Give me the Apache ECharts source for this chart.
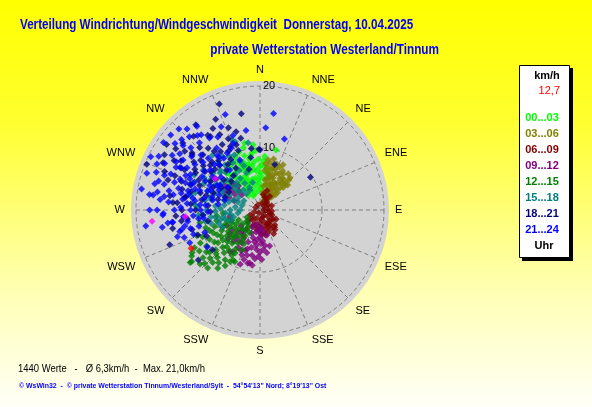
<!DOCTYPE html>
<html>
<head>
<meta charset="utf-8">
<script src="https://cdn.jsdelivr.net/npm/echarts@6/dist/echarts.min.js"></script>
<style>
  html, body { margin: 0; padding: 0; }
  #chart { width: 592px; height: 407px; }
</style>
</head>
<body>
<div id="chart"></div>
<script>
// Windrichtung (Grad) / Windgeschwindigkeit (km/h), Punkte als [km/h, Grad]
var directions = ['N', 'NNE', 'NE', 'ENE', 'E', 'ESE', 'SE', 'SSE', 'S', 'SSW', 'SW', 'WSW', 'W', 'WNW', 'NW', 'NNW'];
var timeRanges = ['00...03', '03...06', '06...09', '09...12', '12...15', '15...18', '18...21', '21...24'];
var groupColors = ['#00ff00', '#808000', '#800000', '#800080', '#008000', '#008080', '#000080', '#0000ff'];

var h00_03 = [[8.7,5],[10.0,15],[11.1,347],[9.3,352],[8.2,358],[7.6,346],[7.1,336],[6.6,351],[6.2,341],[6.0,1],[5.6,331],[5.1,346],[4.9,356],[4.6,338],[4.2,326],[4.0,351],[3.6,341],[3.2,356],[3.0,321],[7.0,6],[6.1,9],[8.1,341],[8.6,333],[7.2,326],[5.6,318],[4.6,313],[6.6,323],[9.1,344],[5.1,6],[4.1,11],[3.6,2],[7.8,353],[6.9,359],[9.0,328],[8.0,318],[5.8,310],[6.8,312],[5.4,338],[7.4,343],[9.9,340],[4.4,333],[2.8,345],
    [5.2,352],[6.4,346],[7.3,350],[8.4,348],[5.9,334],[6.9,341],[7.9,337],[4.7,344],[3.9,330],[5.3,324],[6.1,328],[7.7,330],[8.9,350],[9.6,356],[7.4,2],[5.6,0],[4.4,358],[6.3,355],[8.0,4],[6.6,12],[5.4,15],[4.8,335],[3.3,333],[6.5,315],[7.5,320],[8.4,325],[9.4,335],[10.4,345],[10.6,354],[2.5,335]];
var h03_06 = [[8.2,27],[8.2,9],[7.2,17],[7.1,43],[6.3,35],[4.5,26],[2.6,32],[1.8,27],[5.2,12],[6.0,20],[6.6,28],[5.5,38],[4.8,42],[3.9,34],[3.4,20],[4.2,14],[3.0,10],[2.2,18],[5.8,45],[6.9,33],[7.6,24],[7.8,12],[6.4,7],[5.0,30],[4.0,45],[3.2,40],[2.8,25],[1.5,35],[6.2,40],[7.4,38],[5.6,22],[4.6,18],[3.6,28],[2.4,38],[1.2,15],[5.9,14],[6.8,16],
    [7.0,20],[6.5,24],[7.3,30],[6.0,32],[5.3,34],[4.3,38],[3.5,45],[2.8,42],[2.0,30],[3.0,16],[3.8,24],[4.4,22],[5.0,26],[5.4,18],[6.1,13],[7.0,10],[7.5,7],[4.9,10],[3.9,8],[2.5,12],[1.8,22],[6.7,44],[6.0,48],[5.2,46],[4.6,32],[3.2,30],[4.1,28],[7.9,20],[8.5,15],[5.7,40]];
var h06_09 = [[2.5,148],[2.8,173],[4.0,143],[4.1,168],[2.5,198],[1.8,243],[0.9,338],[1.5,58],[2.1,113],[2.2,21],[1.2,160],[1.6,130],[3.0,155],[3.4,135],[3.6,180],[2.0,215],[1.0,250],[3.2,190],[0.6,90],[1.4,200],[2.6,125],[3.8,160],[1.9,95],[0.8,300],[2.9,205],[3.5,150],[1.2,20],[1.7,40],[2.3,140],[3.3,20],[2.6,12],
    [2.2,160],[2.9,145],[3.3,165],[2.0,180],[1.5,170],[1.0,140],[2.4,130],[3.0,120],[1.8,110],[2.7,185],[3.9,175],[4.4,150],[1.6,225],[2.3,230],[0.5,200],[1.2,80],[2.0,70],[2.6,155],[3.6,140],[1.4,100],[2.0,30],[2.7,35],[0.9,45]];
var h09_12 = [[8.1,213],[7.6,196],[4.4,180],[7.0,171],[8.7,191],[6.1,209],[2.7,225],[8.8,193],[8.3,216],[6.4,185],[5.5,200],[5.0,175],[3.6,190],[3.0,205],[4.8,215],[5.8,222],[7.2,205],[6.8,180],[6.0,165],[4.2,165],[3.4,172],[5.2,190],[7.9,186],[6.6,198],[4.0,230],[2.4,195],[5.6,235],[9.3,200],[6.1,307],[5.7,315],[6.3,296],[4.8,302],[5.2,318],[6.9,305],[4.4,290],[3.8,310],[5.0,258],[5.9,245],
    [7.4,190],[6.9,200],[6.2,193],[5.7,186],[5.4,178],[4.6,194],[4.0,200],[3.2,185],[2.8,178],[3.8,215],[4.4,220],[5.2,210],[6.0,215],[6.6,220],[7.0,210],[7.8,202],[8.4,198],[9.0,188],[8.0,178],[7.5,182],[6.4,175],[5.8,172],[4.8,185],[3.9,178],[6.9,228],[6.2,232],[5.0,225],[5.5,305],[6.6,300],[4.6,312],[5.4,292]];
var h12_15 = [[13.8,233],[11.6,216],[11.2,226],[9.2,208],[10.2,245],[11.0,241],[7.7,231],[5.6,240],[14.1,233],[12.6,222],[10.3,222],[12.9,238],[9.9,258],[6.4,214],[9.3,206],[8.5,225],[7.0,220],[6.0,228],[5.0,235],[4.2,222],[3.6,232],[8.0,240],[9.0,235],[10.6,230],[7.4,212],[8.2,217],[6.6,245],[4.8,250],[3.4,215],[5.6,210],[4.0,205],[7.8,250],[8.8,248],[12.0,230],[13.0,228],[6.2,236],[9.8,215],[11.8,236],[5.2,218],[10.8,218],[2.8,230],[7.2,256],
    [9.6,228],[8.6,232],[7.6,236],[6.8,232],[5.8,222],[4.6,228],[5.4,228],[6.4,225],[7.3,226],[8.0,222],[9.0,220],[10.0,225],[11.0,232],[10.4,236],[9.4,240],[8.4,244],[7.0,242],[6.0,248],[5.4,252],[4.4,240],[3.8,245],[3.0,222],[4.0,215],[4.8,210],[6.0,206],[7.0,204],[8.0,210],[8.6,212],[9.6,210],[10.6,212],[11.4,222],[12.4,226],[13.3,236],[12.2,240],[11.0,248],[9.2,252],[7.0,262],[6.0,265],[5.0,245],[2.4,240]];
var h15_18 = [[11.7,319],[11.7,340],[11.0,350],[8.8,313],[6.8,298],[11.7,292],[8.3,284],[7.3,261],[6.7,246],[4.8,270],[10.2,273],[6.1,259],[4.0,277],[3.6,333],[5.4,297],[8.3,299],[3.2,270],[6.6,256],[9.0,280],[12.2,338],[7.5,305],[9.6,308],[10.4,300],[6.0,285],[5.2,310],[7.8,290],[8.6,270],[4.4,255],[5.8,320],[7.0,325],[9.2,322],[10.0,330],[6.4,340],[4.6,345],[3.0,300],[8.0,262],[9.4,265],[5.6,265],[7.2,275],[10.8,285],[6.8,315],[4.2,320],[3.8,290],[8.8,330],[11.2,305],[5.0,250],[7.6,340],
    [5.2,285],[6.2,292],[7.0,295],[7.8,300],[8.6,305],[9.4,300],[10.0,295],[9.0,290],[8.0,282],[7.2,268],[6.4,272],[5.8,278],[4.6,290],[4.0,300],[4.5,310],[5.4,316],[6.2,310],[7.2,312],[8.2,318],[9.0,315],[10.2,318],[10.6,325],[9.8,335],[8.4,338],[7.2,332],[6.0,328],[5.0,330],[4.0,335],[3.4,320],[3.0,285],[3.6,262],[4.8,262],[5.8,255],[7.0,252],[8.2,255],[9.0,258],[10.0,265],[10.6,275],[11.4,282],[12.0,298]];
var h18_21 = [[18.3,339],[16.3,334],[16.5,311],[14.3,310],[19.7,292],[17.4,296],[14.2,339],[14.7,325],[14.6,298],[15.8,349],[9.8,359],[9.7,57],[14.3,326],[9.7,0],[7.7,18],[11.3,335],[14.1,309],[14.7,279],[14.1,275],[12.3,279],[12.8,231],[10.0,230],[12.6,270],[15.6,249],[11.4,254],[12.0,300],[10.5,292],[9.7,318],[8.8,305],[11.0,315],[13.0,320],[12.2,330],[10.2,340],[9.0,325],[8.0,290],[7.2,300],[6.5,315],[9.5,280],[11.5,285],[13.5,290],[15.0,302],[16.0,318],[10.8,305],[7.8,330],[6.8,345],[12.5,310],[13.8,298],[9.2,265],[8.4,275],[6.0,290],[10.0,352],[13.2,343],[17.2,323],[11.8,263],[8.6,350],
    [9.2,300],[10.0,308],[10.8,312],[11.6,308],[12.4,302],[13.2,306],[12.8,314],[12.0,322],[11.4,326],[10.4,320],[9.8,312],[9.4,330],[10.8,332],[12.6,336],[13.8,332],[15.2,330],[14.0,316],[15.4,308],[16.0,300],[14.8,292],[13.0,285],[12.0,290],[11.0,296],[10.0,286],[9.0,285],[8.4,296],[7.6,310],[8.4,320],[7.0,322],[6.2,305],[5.8,300],[7.0,284],[8.0,268],[10.4,270],[11.2,275],[12.8,262],[13.6,266],[14.4,258],[10.8,248],[9.6,244],[8.6,258],[16.8,306],[17.8,300],[18.4,305],[15.6,288],[16.6,292],[13.4,275],[12.2,280],[11.2,340],[12.0,345]];
var h21_24 = [[18.5,315],[16.9,323],[15.7,320],[18.5,298],[16.7,302],[15.7,8],[13.3,4],[12.1,19],[17.1,296],[17.5,284],[16.2,276],[15.6,268],[14.3,262],[13.4,255],[20.9,275],[20.2,258],[14.2,262],[15.7,267],[12.5,245],[10.4,235],[9.6,248],[13.0,256],[11.8,261],[10.2,288],[12.6,297],[10.3,309],[7.6,302],[13.8,291],[9.7,275],[8.1,323],[8.7,338],[5.9,286],[11.0,280],[12.0,285],[13.0,282],[14.5,288],[15.5,292],[16.0,285],[11.5,293],[9.0,296],[10.8,300],[12.8,305],[14.0,308],[15.0,312],[11.8,315],[9.8,318],[12.2,325],[13.6,330],[10.6,330],[8.2,310],[7.0,290],[6.8,278],[8.4,268],[10.0,262],[11.2,270],[12.4,265],[14.8,275],[16.8,280],[17.8,290],[19.2,288],[19.0,305],[18.0,278],[9.2,282],[7.8,282],[10.8,322],[14.6,318],[11.6,338],[16.4,340],[13.0,350],[6.4,305],[8.6,292],[12.8,290],[15.2,297],[17.8,270],[18.6,262],[11.4,250],[10.2,255],
    [11.0,288],[11.8,290],[12.4,294],[13.2,295],[13.6,300],[14.4,298],[14.8,303],[15.8,305],[16.2,310],[17.0,312],[17.4,308],[16.4,316],[15.4,322],[14.2,325],[13.0,313],[12.0,310],[11.0,305],[10.0,298],[9.4,305],[10.4,315],[11.2,322],[9.0,290],[8.0,300],[7.4,296],[8.0,285],[9.6,270],[10.6,278],[11.8,282],[12.6,278],[13.6,285],[14.2,280],[15.0,282],[15.6,278],[16.4,290],[17.0,286],[18.2,294],[17.4,278],[16.6,270],[15.0,262],[16.0,260],[13.8,270],[12.8,272],[11.8,275],[12.4,258],[13.0,250],[14.0,252],[11.6,255],[10.8,265],[9.2,262],[8.8,275],[19.6,296],[19.4,280],[20.4,268],[18.8,310],[17.6,318],[14.8,335],[12.8,340],[15.6,300],[10.2,325],[11.0,335]];
var magentaPoints = [[17.5,264],[12.1,265],[8.8,305]];
var currentValue = [12.7, 241];

var groups = [h00_03, h03_06, h06_09, h09_12, h12_15, h15_18, h18_21, h21_24];

var title1 = 'Verteilung Windrichtung/Windgeschwindigkeit  Donnerstag, 10.04.2025';
var title2 = 'private Wetterstation Westerland/Tinnum';
var statsLine = '1440 Werte   -   \u00d8 6,3km/h  -  Max. 21,0km/h';
var footerLine = '\u00a9 WsWin32  -  \u00a9 private Wetterstation Tinnum/Westerland/Sylt  -  54\u00b054\'13" Nord; 8\u00b019\'13" Ost';

var chart = echarts.init(document.getElementById('chart'));

var arial = '"Liberation Sans", Arial, sans-serif';

function txt(x, y, text, font, fill, align, sx) {
    return {
        type: 'text', x: x, y: y, z: 10,
        scaleX: sx || 1,
        style: {
            text: text, font: font, fill: fill,
            textAlign: align || 'left', align: align || 'left',
            textVerticalAlign: 'middle', verticalAlign: 'middle'
        }
    };
}

var graphics = [
    // grauer Hintergrund der Windrose
    { type: 'circle', shape: { cx: 260, cy: 210, r: 129 }, style: { fill: '#d3d3d3' }, z: -10 },
    txt(20, 25, title1, 'bold 14px ' + arial, '#0000ff', 'left', 0.833),
    txt(439, 50, title2, 'bold 14px ' + arial, '#0000ff', 'right', 0.84),
    txt(18, 369, statsLine, '11px ' + arial, '#000000', 'left', 0.86),
    txt(19, 386, footerLine, 'bold 8px ' + arial, '#0000ff', 'left', 0.865),
    // Legendenkasten
    { type: 'rect', shape: { x: 522, y: 68, width: 51, height: 193 }, style: { fill: '#000000' }, z: 5 },
    { type: 'rect', shape: { x: 519.5, y: 65.5, width: 50, height: 192 }, style: { fill: '#ffffff', stroke: '#000000', lineWidth: 1 }, z: 6 },
    txt(547, 76, 'km/h', 'bold 11px ' + arial, '#000000', 'center'),
    txt(560, 91, currentValue[0].toFixed(1).replace('.', ','), '11px ' + arial, '#ff0000', 'right'),
    txt(544, 246, 'Uhr', 'bold 11px ' + arial, '#000000', 'center')
];
timeRanges.forEach(function (t, i) {
    graphics.push(txt(542, 118 + i * 16, t, 'bold 11px ' + arial, groupColors[i], 'center'));
});

var series = groups.map(function (g, i) {
    return {
        name: timeRanges[i],
        type: 'scatter',
        coordinateSystem: 'polar',
        symbol: 'diamond',
        symbolSize: 7,
        silent: true,
        itemStyle: { color: groupColors[i] },
        data: g
    };
});
series.push({
    type: 'scatter', coordinateSystem: 'polar', symbol: 'diamond', symbolSize: 7, silent: true,
    itemStyle: { color: '#ff00ff' }, data: magentaPoints
});
series.push({
    type: 'scatter', coordinateSystem: 'polar', symbol: 'diamond', symbolSize: 7, silent: true,
    itemStyle: { color: '#ff0000' }, data: [currentValue]
});

var option = {
    animation: false,
    backgroundColor: {
        type: 'linear', x: 0, y: 0, x2: 0, y2: 1,
        colorStops: [
            { offset: 0, color: '#ffff00' },
            { offset: 0.3, color: '#ffff30' },
            { offset: 0.7, color: '#ffffb0' },
            { offset: 1, color: '#fffff8' }
        ]
    },
    polar: {
        center: [260, 210],
        radius: 124
    },
    angleAxis: {
        type: 'value',
        min: 0,
        max: 360,
        interval: 22.5,
        startAngle: 90,
        clockwise: true,
        axisLine: { show: false },
        axisTick: { show: false },
        axisLabel: {
            margin: 11,
            color: '#000000',
            fontFamily: arial,
            fontSize: 11,
            formatter: function (v) { return directions[Math.round(v / 22.5) % 16]; }
        },
        splitLine: { show: true, lineStyle: { color: '#808080', width: 1, type: [4, 3] } }
    },
    radiusAxis: {
        min: 0,
        max: 20,
        interval: 10,
        axisLine: { show: false },
        axisTick: { show: false },
        axisLabel: {
            margin: -3,
            align: 'left',
            color: '#000000',
            fontFamily: arial,
            fontSize: 11
        },
        splitLine: { show: true, lineStyle: { color: '#808080', width: 1, type: [4, 3] } }
    },
    graphic: graphics,
    series: series
};
chart.setOption(option);
</script>
</body>
</html>
